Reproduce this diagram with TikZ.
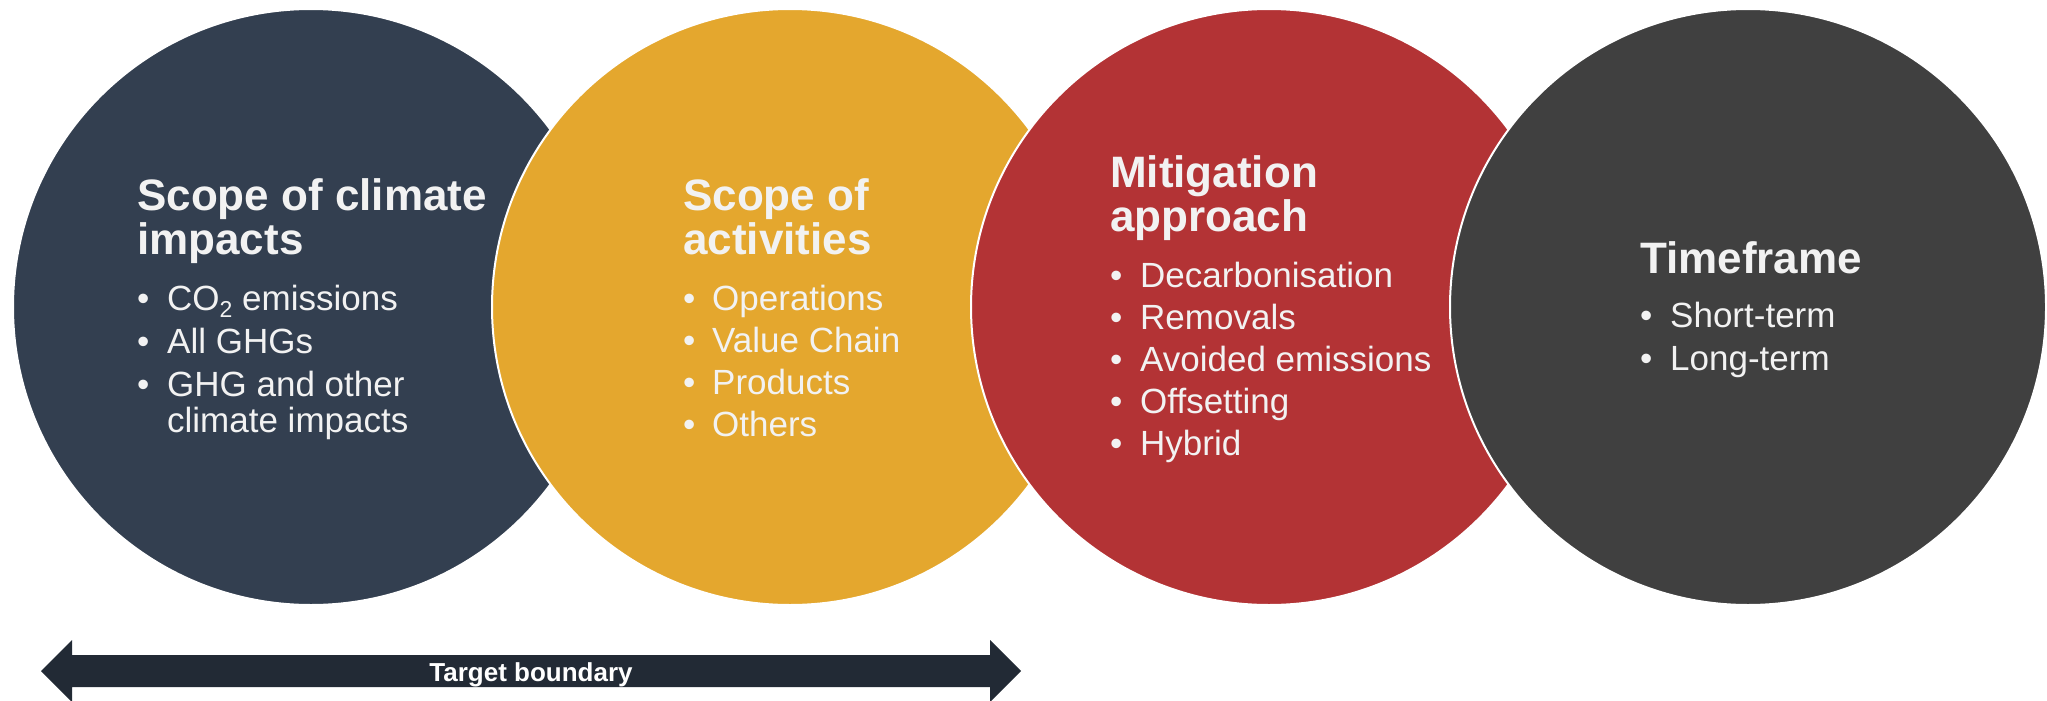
\documentclass[tikz,border=0pt]{standalone}
\usepackage{fontspec}
\setmainfont{Liberation Sans}
\definecolor{cnavy}{HTML}{333F50}
\definecolor{cgold}{HTML}{E4A72E}
\definecolor{cred}{HTML}{B33335}
\definecolor{cgrey}{HTML}{404040}
\definecolor{carrow}{HTML}{222A35}
\definecolor{txt}{HTML}{F2F2F2}
\tikzset{
  disc/.style={circle, minimum size=596pt, inner sep=0, draw=white, line width=2pt},
  ttl/.style={anchor=base west, inner sep=0, text=txt, font=\bfseries\fontsize{44}{44}\selectfont},
  itm/.style={anchor=base west, inner sep=0, text=txt, font=\fontsize{35}{35}\selectfont},
  bul/.style={anchor=base west, inner sep=0, text=txt, font=\fontsize{35}{35}\selectfont},
}
\newcommand{\subtwo}{\raisebox{-0.22em}{\fontsize{23}{23}\selectfont 2}}
\begin{document}
\begin{tikzpicture}[x=1pt,y=-1pt]
\useasboundingbox (0,0) rectangle (2047,701);
% circles
\node[disc, fill=cnavy] (c1) at (311,307) {};
\node[disc, fill=cgold] (c2) at (790,307) {};
\node[disc, fill=cred]  (c3) at (1269,307) {};
\node[disc, fill=cgrey] (c4) at (1748,307) {};
% circle 1 text
\node[ttl] (t1a) at (137,210) {Scope of climate};
\node[ttl] (t1b) at (137,254) {impacts};
\node[bul] (b1a) at (137,310) {•};
\node[itm] (i1a) at (167,310) {CO\subtwo{} emissions};
\node[bul] (b1b) at (137,353) {•};
\node[itm] (i1b) at (167,353) {All GHGs};
\node[bul] (b1c) at (137,396) {•};
\node[itm] (i1c) at (167,396) {GHG and other};
\node[itm] (i1d) at (167,432) {climate impacts};
% circle 2 text
\node[ttl] (t2a) at (683,210) {Scope of};
\node[ttl] (t2b) at (683,254) {activities};
\node[bul] (b2a) at (683,310) {•};
\node[itm] (i2a) at (712,310) {Operations};
\node[bul] (b2b) at (683,352) {•};
\node[itm] (i2b) at (712,352) {Value Chain};
\node[bul] (b2c) at (683,394) {•};
\node[itm] (i2c) at (712,394) {Products};
\node[bul] (b2d) at (683,436) {•};
\node[itm] (i2d) at (712,436) {Others};
% circle 3 text
\node[ttl] (t3a) at (1110,187) {Mitigation};
\node[ttl] (t3b) at (1110,231) {approach};
\node[bul] (b3a) at (1110,287) {•};
\node[itm] (i3a) at (1140,287) {Decarbonisation};
\node[bul] (b3b) at (1110,329) {•};
\node[itm] (i3b) at (1140,329) {Removals};
\node[bul] (b3c) at (1110,371) {•};
\node[itm] (i3c) at (1140,371) {Avoided emissions};
\node[bul] (b3d) at (1110,413) {•};
\node[itm] (i3d) at (1140,413) {Offsetting};
\node[bul] (b3e) at (1110,455) {•};
\node[itm] (i3e) at (1140,455) {Hybrid};
% circle 4 text
\node[ttl] (t4a) at (1640,273) {Timeframe};
\node[bul] (b4a) at (1640,327) {•};
\node[itm] (i4a) at (1670,327) {Short-term};
\node[bul] (b4b) at (1640,370) {•};
\node[itm] (i4b) at (1670,370) {Long-term};
% double arrow
\fill[carrow] (41,671) -- (72,640) -- (72,655) -- (990,655) -- (990,640) -- (1021,671)
  -- (990,702) -- (990,687) -- (72,687) -- (72,702) -- cycle;
\node[anchor=base, inner sep=0, text=white, font=\bfseries\fontsize{26}{26}\selectfont] (tb) at (531,681) {Target boundary};
\end{tikzpicture}
\end{document}
